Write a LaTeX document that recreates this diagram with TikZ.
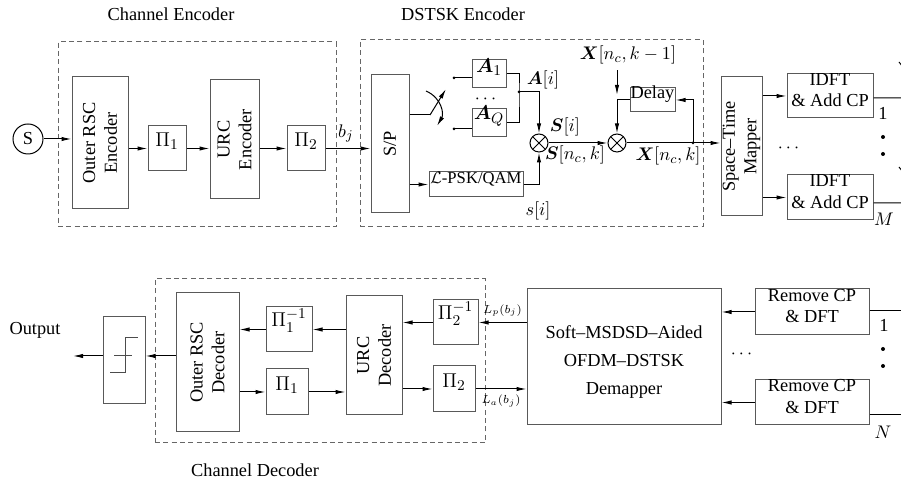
\documentclass[tikz,border=0pt]{standalone}
\usepackage{amsmath}
\usepackage{amssymb}
\usepackage[no-math]{fontspec}
\setmainfont{Liberation Serif}
\usepackage{xcolor}
\usepackage{tikz}
\usetikzlibrary{arrows.meta, positioning, fit}

\begin{document}
\begin{tikzpicture}[x=0.6pt, y=-0.6pt, >={Latex[length=6pt,width=2.6pt]},
  font=\fontsize{11}{13}\selectfont, line width=0.6pt,
  blk/.style={draw=black!65, inner sep=0pt, align=center, fit={#1}},
  grp/.style={draw=black!60, dash pattern=on 3pt off 2pt, inner sep=0pt, fit={#1}},
  vlab/.style={rotate=90, align=center},
  bigm/.style={font=\fontsize{12.5}{14}\selectfont},
  mult/.style={draw, circle, minimum size=10.8pt, inner sep=0pt,
    path picture={\draw (path picture bounding box.south east) -- (path picture bounding box.north west)
      (path picture bounding box.south west) -- (path picture bounding box.north east);}},
  lbs/.style={font=\fontsize{7}{8}\selectfont}]
  \useasboundingbox (0,0) rectangle (901,481);

  % channel encoder
  \node (lenc) at (171,14) {Channel Encoder};
  \node[grp={(58,42) (336,227)}] (chenc) {};
  \node[draw, circle, minimum size=18pt, inner sep=0pt] (src) at (28,139) {S};
  \node[blk={(72,77) (128,209)}] (orsc) {};
  \node[vlab] at (orsc) {Outer RSC\\Encoder};
  \node[blk={(148,126) (186,171)}, bigm] (pia) {$\Pi_1$};
  \node[blk={(210,80) (259,199)}] (urce) {};
  \node[vlab] at (urce) {URC\\Encoder};
  \node[blk={(287,126) (325,171)}, bigm] (pib) {$\Pi_2$};
  \draw[->] (src) -- (src -| orsc.west);
  \draw[->] (orsc.east |- pia) -- (pia);
  \draw[->] (pia) -- (pia -| urce.west);
  \draw[->] (urce.east |- pib) -- (pib);

  % DSTSK encoder
  \node (ldst) at (463,14) {DSTSK Encoder};
  \node[grp={(360,40) (703,227)}] (dstsk) {};
  \node[blk={(371,75) (409,213)}] (sp) {};
  \node[vlab] at (sp) {S/P};
  \draw[->] (pib) -- node[above, pos=0.45] {$b_j$} (pib -| sp.west);
  \coordinate (swp) at (430,115);
  \coordinate (ct1) at (454,78);
  \coordinate (ct2) at (454,129);
  \draw (sp.east |- swp) -- (swp);
  \draw[->] (swp) -- (446,89);
  \draw[->] (426,91) .. controls (442,98) and (444,114) .. (437,126);
  \fill (ct1) circle (1.5) (ct2) circle (1.5);
  \node[blk={(472,60) (506,88)}, bigm] (a1) {$\boldsymbol{A}_1$};
  \node[blk={(472,109) (506,137)}, bigm] (aq) {$\boldsymbol{A}_Q$};
  \draw (ct1) -- (ct1 -| a1.west);
  \draw (ct2) -- (ct2 -| aq.west);
  \node at (487,99) {$\cdots$};
  \coordinate (ai) at (519,92);
  \draw (a1.east) -| (ai) |- (aq.east);
  \fill (ai) circle (1.5);
  \node[mult] (m1) at (539,143) {};
  \draw[->] (ai) -| (m1);
  \node at (543,80) {$\boldsymbol{A}[i]$};
  \node at (565,127) {$\boldsymbol{S}[i]$};
  \node at (575,155) {$\boldsymbol{S}[n_c,k]$};
  \node[blk={(429,172) (523,197)}, font=\fontsize{10}{12}\selectfont] (lmod) {$\mathcal{L}$-PSK/QAM};
  \draw[->] (sp.east |- lmod) -- (lmod);
  \draw[->] (lmod) -| (m1);
  \node at (538,211) {$s[i]$};
  \node[mult] (m2) at (617,143) {};
  \draw[->] (m1) -- (m2);
  \node (xprev) at (628,55) {$\boldsymbol{X}[n_c,k-1]$};
  \node[blk={(630,88) (675,112)}] (dly) {Delay};
  \draw[->, shorten >=3pt] (xprev.south -| m2) -- (m2 |- dly.west);
  \draw[->] (dly) -| (m2);
  \coordinate (tap) at (693,143);
  \fill (tap) circle (1.5);
  \draw[->] (tap) |- (dly);
  \node at (668,156) {$\boldsymbol{X}[n_c,k]$};

  % transmitter front end
  \node[blk={(721,77) (762,216)}] (stm) {};
  \node[vlab] at (stm) {Space--Time\\Mapper};
  \draw[->] (m2) -- (m2 -| stm.west);
  \node[blk={(787,74) (873,118)}] (id1) {IDFT\\\& Add CP};
  \node[blk={(787,175) (873,220)}] (id2) {IDFT\\\& Add CP};
  \draw[->] (stm.east |- id1) -- (id1);
  \draw[->] (stm.east |- id2) -- (id2);
  \node at (790,148) {$\cdots$};
  \coordinate (tx1) at (910,98);
  \coordinate (tx2) at (910,203);
  \foreach \t in {tx1,tx2}
    \draw (id1.east |- \t) -- (\t) -- ++(0,-22) -- ++(-11,-14) ++(11,14) -- ++(11,-14);
  \node at (883,113) {1};
  \node at (884,219) {$M$};
  \fill (883,137) circle (2) (883,154) circle (2);

  % receiver
  \node (lout) at (35,330) {Output};
  \coordinate (out) at (73,356);
  \node[blk={(103,317) (145,404)}] (qnt) {};
  \draw[->] (qnt.west |- out) -- (out);
  \draw[black!70] (110,373) -- (125,373) -- (125,338) -- (138,338) (114,356) -- (132,356);
  \node[grp={(155,279) (485,443)}] (chdec) {};
  \node (ldec) at (255,470) {Channel Decoder};
  \node[blk={(176,293) (239,432)}] (ordec) {};
  \node[vlab] at (ordec) {Outer RSC\\Decoder};
  \draw[->] (ordec.west |- out) -- (qnt.east |- out);
  \node[blk={(266,307) (312,352)}, bigm] (dpiai) {$\Pi_1^{-1}$};
  \node[blk={(266,369) (308,415)}, bigm] (dpia) {$\Pi_1$};
  \node[blk={(346,296) (402,415)}] (urcd) {};
  \node[vlab] at (urcd) {URC\\Decoder};
  \node[blk={(433,300) (478,345)}, bigm] (dpibi) {$\Pi_2^{-1}$};
  \node[blk={(433,366) (475,412)}, bigm] (dpib) {$\Pi_2$};
  \node[blk={(527,289) (721,425)}] (dem) {};
  \node[align=center, font=\fontsize{11}{17}\selectfont] at ([yshift=-3pt]dem.center) {Soft--MSDSD--Aided\\OFDM--DSTSK\\Demapper};
  \node[blk={(755,289) (869,335)}] (rcp1) {Remove CP\\\& DFT};
  \node[blk={(755,380) (869,425)}] (rcp2) {Remove CP\\\& DFT};
  \draw[->] (rcp1) -- (rcp1 -| dem.east);
  \draw[->] (rcp2) -- (rcp2 -| dem.east);
  \node at (743,354) {$\cdots$};
  \coordinate (rx1) at (905,311);
  \coordinate (rx2) at (905,415);
  \draw (rcp1.east |- rx1) -- (rx1);
  \draw (rcp2.east |- rx2) -- (rx2);
  \node at (884,325) {1};
  \node at (883,432) {$N$};
  \fill (883,349) circle (2) (883,366) circle (2);
  \draw[->] (dem.west |- dpibi) -- node[above, lbs] {$L_p(b_j)$} (dpibi);
  \draw[->] (dpibi) -- (dpibi -| urcd.east);
  \draw[->] (urcd.west |- dpiai) -- (dpiai);
  \draw[->] (dpiai) -- (dpiai -| ordec.east);
  \draw[->] (ordec.east |- dpia) -- (dpia);
  \draw[->] (dpia) -- (dpia -| urcd.west);
  \draw[->] (urcd.east |- dpib) -- (dpib);
  \draw[->] (dpib) -- node[below, lbs] {$L_a(b_j)$} (dpib -| dem.west);
\end{tikzpicture}
\end{document}
